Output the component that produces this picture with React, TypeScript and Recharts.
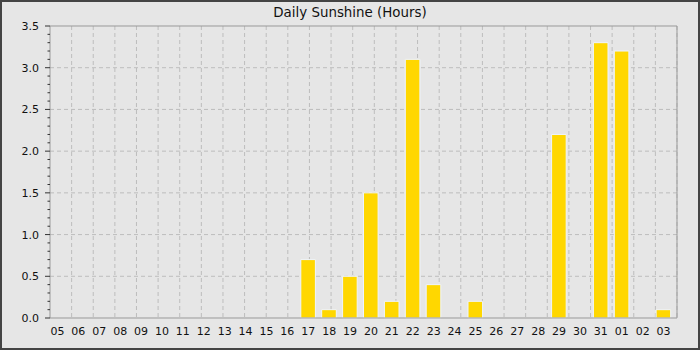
import React from 'react';
import { BarChart, Bar, XAxis, YAxis, CartesianGrid, ReferenceLine } from 'recharts';

const days = [
  '05', '06', '07', '08', '09', '10', '11', '12', '13', '14', '15', '16', '17', '18', '19',
  '20', '21', '22', '23', '24', '25', '26', '27', '28', '29', '30', '31', '01', '02', '03',
];
const sunshine = [
  0, 0, 0, 0, 0, 0, 0, 0, 0, 0, 0, 0, 0.7, 0.1, 0.5,
  1.5, 0.2, 3.1, 0.4, 0, 0.2, 0, 0, 0, 2.2, 0, 3.3, 3.2, 0, 0.1,
];
const majorTicks = [0, 0.5, 1, 1.5, 2, 2.5, 3, 3.5];
const allTicks = Array.from({ length: 36 }, (_, i) => i / 10);
const dayBoundaries = days.map((_, i) => i).slice(1);

const data = days.map((d, i) => ({ day: d, hours: sunshine[i] }));

const font = '"DejaVu Sans", Verdana, sans-serif';

// y axis tick: long line + label on the halves, short line for tenths
const YTick = (props: any) => {
  const { x, y, payload } = props;
  const v = payload.value;
  const major = majorTicks.some((m) => Math.abs(m - v) < 1e-6);
  return (
    <g>
      <line x1={major ? x + 6 : x + 8.5} x2={x + 11} y1={y} y2={y} stroke="#333" />
      {major && (
        <text x={x} y={y} dy={4} textAnchor="end" fontSize={11} fill="#111" fontFamily={font}>
          {v.toFixed(1)}
        </text>
      )}
    </g>
  );
};

export default function App() {
  return (
    <div
      style={{
        position: 'fixed',
        left: 0,
        top: 0,
        width: 700,
        height: 350,
        boxSizing: 'border-box',
        border: '2px solid #444',
        background: '#e6e6e6',
        fontFamily: font,
      }}
    >
      <div
        style={{
          position: 'absolute',
          top: 3,
          left: 0,
          width: 696,
          textAlign: 'center',
          fontSize: 13.4,
          lineHeight: '15px',
          color: '#111',
        }}
      >
        Daily Sunshine (Hours)
      </div>
      <BarChart
        width={696}
        height={346}
        data={data}
        margin={{ top: 24, right: 21, left: 8, bottom: 10 }}
        barGap={0}
        barCategoryGap={0}
      >
        <CartesianGrid
          xAxisId="grid"
          yAxisId="grid"
          stroke="#bdbdbd"
          strokeDasharray="4 3"
          syncWithTicks
        />
        <XAxis
          dataKey="day"
          height={20}
          interval={0}
          tickLine={false}
          tickSize={0}
          tickMargin={9}
          axisLine={{ stroke: '#999' }}
          tick={{ dx: -3, fontSize: 11, fill: '#111', fontFamily: font }}
        />
        <XAxis
          xAxisId="grid"
          type="number"
          domain={[0, days.length]}
          allowDataOverflow
          ticks={dayBoundaries}
          interval={0}
          hide
        />
        <YAxis
          width={40}
          domain={[0, 3.5]}
          ticks={allTicks}
          interval={0}
          tickLine={false}
          tickSize={5}
          tickMargin={6}
          axisLine={{ stroke: '#999' }}
          tick={<YTick />}
        />
        <YAxis
          yAxisId="grid"
          domain={[0, 3.5]}
          allowDataOverflow
          ticks={majorTicks.slice(1, -1)}
          interval={0}
          hide
        />
        <ReferenceLine y={3.5} stroke="#999" />
        <ReferenceLine x={days[days.length - 1]} position="end" stroke="#999" />
        <Bar dataKey="hours" barSize={14.6} fill="#ffd700" stroke="#eef4ff" strokeWidth={1} isAnimationActive={false} />
        <Bar dataKey={() => 0} barSize={6.2} fill="none" isAnimationActive={false} />
      </BarChart>
    </div>
  );
}
